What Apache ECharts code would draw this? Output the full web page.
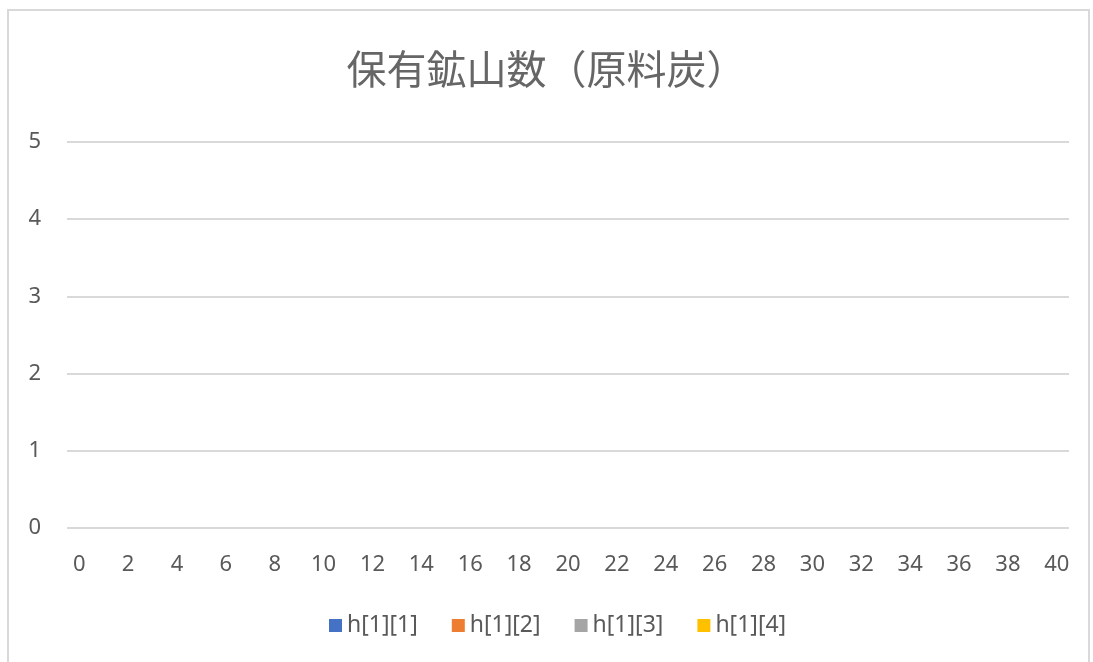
<!DOCTYPE html>
<html>
<head>
<meta charset="utf-8">
<script src="https://cdn.jsdelivr.net/npm/echarts@6/dist/echarts.min.js"></script>
<style>
  html, body { margin: 0; padding: 0; background: #fff; }
  #chart { width: 1093px; height: 662px; }
</style>
</head>
<body>
<div id="chart"></div>
<script>
// Categories along the horizontal axis
const categories = [0,1,2,3,4,5,6,7,8,9,10,11,12,13,14,15,16,17,18,19,20,21,22,23,24,25,26,27,28,29,30,31,32,33,34,35,36,37,38,39,40];

// Series values (all mines counted as zero in every period)
const h11 = [0,0,0,0,0,0,0,0,0,0,0,0,0,0,0,0,0,0,0,0,0,0,0,0,0,0,0,0,0,0,0,0,0,0,0,0,0,0,0,0,0];
const h12 = [0,0,0,0,0,0,0,0,0,0,0,0,0,0,0,0,0,0,0,0,0,0,0,0,0,0,0,0,0,0,0,0,0,0,0,0,0,0,0,0,0];
const h13 = [0,0,0,0,0,0,0,0,0,0,0,0,0,0,0,0,0,0,0,0,0,0,0,0,0,0,0,0,0,0,0,0,0,0,0,0,0,0,0,0,0];
const h14 = [0,0,0,0,0,0,0,0,0,0,0,0,0,0,0,0,0,0,0,0,0,0,0,0,0,0,0,0,0,0,0,0,0,0,0,0,0,0,0,0,0];

const seriesNames = ['h[1][1]', 'h[1][2]', 'h[1][3]', 'h[1][4]'];
const seriesData = [h11, h12, h13, h14];
const colors = ['#4472C4', '#ED7D31', '#A5A5A5', '#FFC000'];

const textColor = '#595959';
const fontFamily = '"Noto Sans CJK JP", "Noto Sans", sans-serif';
const labelFont = '"Noto Sans", "Noto Sans CJK JP", sans-serif';

const chart = echarts.init(document.getElementById('chart'), null, { renderer: 'canvas' });

chart.setOption({
  animation: false,
  color: colors,
  graphic: [{
    type: 'rect',
    shape: { x: 8, y: 10, width: 1081, height: 670 },
    style: { fill: 'none', stroke: '#d9d9d9', lineWidth: 2 },
    silent: true
  }],
  title: {
    text: '保有鉱山数（原料炭）',
    left: 'center',
    top: 44,
    textStyle: { color: '#666666', fontSize: 40, fontWeight: 'normal', fontFamily: fontFamily }
  },
  legend: {
    bottom: 20,
    left: 324,
    itemWidth: 13,
    itemHeight: 13,
    itemGap: 34,
    icon: 'rect',
    textStyle: { color: textColor, fontSize: 23, fontFamily: labelFont },
    data: seriesNames
  },
  grid: { left: 67, right: 24, top: 142, bottom: 134, containLabel: false },
  xAxis: {
    type: 'category',
    data: categories,
    axisLine: { show: false },
    axisTick: { show: false },
    axisLabel: { interval: 1, color: textColor, fontSize: 22, margin: 26, fontFamily: labelFont }
  },
  yAxis: {
    type: 'value',
    min: 0,
    max: 5,
    interval: 1,
    axisLine: { show: false },
    axisTick: { show: false },
    axisLabel: { color: textColor, fontSize: 22, margin: 26, fontFamily: labelFont },
    splitLine: { lineStyle: { color: '#d9d9d9', width: 2 } }
  },
  series: seriesNames.map((name, i) => ({
    name: name,
    type: 'bar',
    stack: 'total',
    barWidth: '60%',
    data: seriesData[i]
  }))
});
</script>
</body>
</html>
